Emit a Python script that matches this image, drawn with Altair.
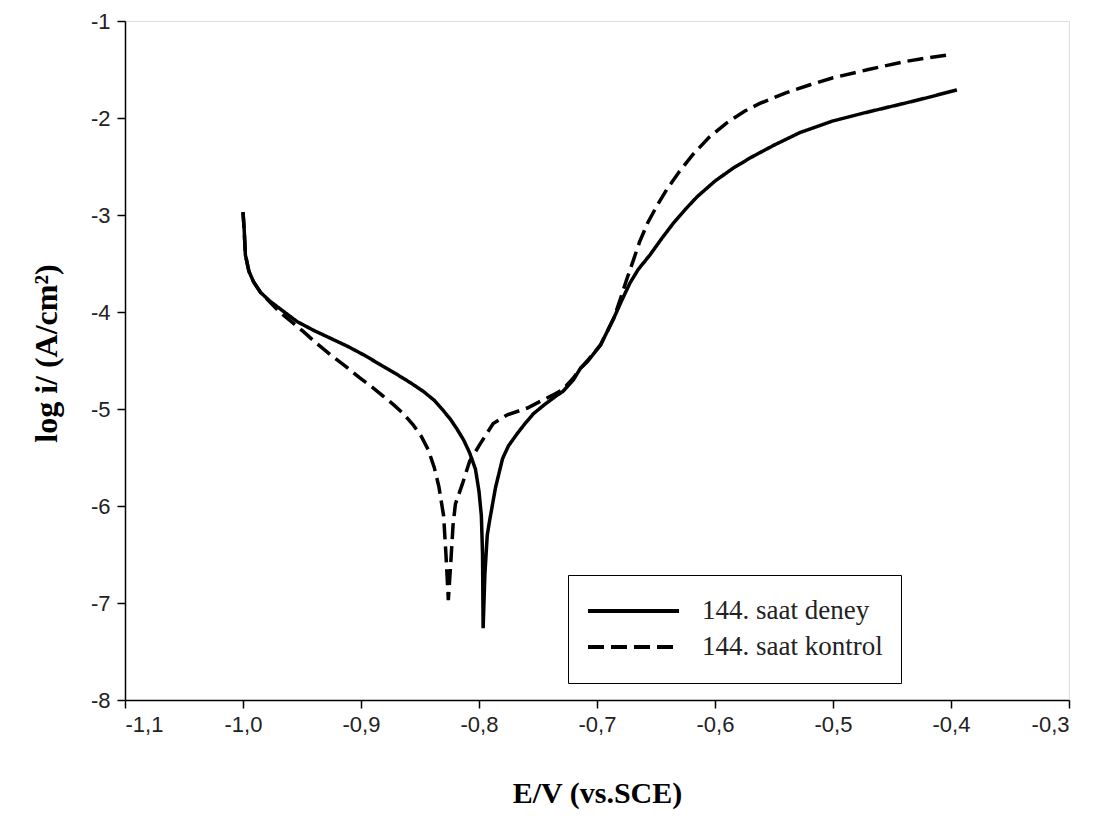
import altair as alt
import pandas as pd

# Series 1: 144. saat deney (solid)
deney_E = [-1.000, -0.999, -0.998, -0.995, -0.991, -0.985, -0.977, -0.965, -0.954, -0.940,
           -0.926, -0.912, -0.898, -0.884, -0.870, -0.858, -0.847, -0.838, -0.830, -0.824,
           -0.819, -0.813, -0.808, -0.803, -0.800, -0.798, -0.797, -0.7965, -0.795, -0.793,
           -0.791, -0.786, -0.780, -0.775, -0.768, -0.761, -0.754, -0.744, -0.734, -0.729,
           -0.720, -0.714, -0.708, -0.697, -0.686, -0.679, -0.672, -0.665, -0.655, -0.645,
           -0.635, -0.625, -0.615, -0.600, -0.585, -0.570, -0.550, -0.528, -0.500, -0.471,
           -0.440, -0.420, -0.395]
deney_logi = [-2.97, -3.15, -3.41, -3.58, -3.69, -3.80, -3.89, -4.00, -4.10, -4.19,
              -4.27, -4.35, -4.44, -4.54, -4.64, -4.73, -4.82, -4.91, -5.02, -5.11,
              -5.20, -5.32, -5.45, -5.62, -5.85, -6.10, -6.50, -7.26, -6.70, -6.30,
              -6.15, -5.81, -5.51, -5.38, -5.26, -5.15, -5.05, -4.95, -4.86, -4.82,
              -4.70, -4.58, -4.51, -4.34, -4.07, -3.88, -3.70, -3.56, -3.41, -3.24,
              -3.08, -2.94, -2.81, -2.65, -2.52, -2.41, -2.28, -2.15, -2.03, -1.94,
              -1.85, -1.79, -1.71]

# Series 2: 144. saat kontrol (dashed)
kontrol_E = [-1.000, -0.999, -0.998, -0.995, -0.991, -0.985, -0.977, -0.969, -0.959, -0.949,
             -0.938, -0.926, -0.913, -0.901, -0.891, -0.881, -0.872, -0.864, -0.856, -0.849,
             -0.843, -0.838, -0.834, -0.830, -0.828, -0.826, -0.824, -0.822, -0.820, -0.814,
             -0.808, -0.799, -0.788, -0.776, -0.759, -0.748, -0.738, -0.729, -0.720, -0.714,
             -0.708, -0.697, -0.686, -0.680, -0.675, -0.669, -0.664, -0.657, -0.649, -0.640,
             -0.630, -0.619, -0.605, -0.590, -0.575, -0.562, -0.540, -0.520, -0.500, -0.470,
             -0.440, -0.420, -0.403]
kontrol_logi = [-2.97, -3.15, -3.41, -3.58, -3.69, -3.80, -3.90, -4.00, -4.10, -4.20,
                -4.32, -4.44, -4.56, -4.68, -4.77, -4.87, -4.96, -5.05, -5.16, -5.28,
                -5.42, -5.60, -5.80, -6.10, -6.50, -6.97, -6.60, -6.20, -5.98, -5.77,
                -5.54, -5.36, -5.15, -5.06, -4.99, -4.92, -4.86, -4.80, -4.68, -4.58,
                -4.50, -4.34, -4.07, -3.86, -3.67, -3.46, -3.28, -3.08, -2.90, -2.72,
                -2.55, -2.38, -2.20, -2.05, -1.93, -1.85, -1.74, -1.66, -1.585, -1.50,
                -1.42, -1.38, -1.35]

series_names = ["144. saat deney", "144. saat kontrol"]
x_ticks = [-1.1, -1.0, -0.9, -0.8, -0.7, -0.6, -0.5, -0.4, -0.3]
y_ticks = [-8, -7, -6, -5, -4, -3, -2, -1]

rows = []
for i, (e, v) in enumerate(zip(deney_E, deney_logi)):
    rows.append({"E": e, "logi": v, "seri": series_names[0], "idx": i})
for i, (e, v) in enumerate(zip(kontrol_E, kontrol_logi)):
    rows.append({"E": e, "logi": v, "seri": series_names[1], "idx": i})
df = pd.DataFrame(rows)

chart = alt.Chart(df).mark_line(color="black", strokeWidth=3.5, clip=True).encode(
    x=alt.X("E:Q",
            scale=alt.Scale(domain=[-1.1, -0.3], nice=False, zero=False),
            axis=alt.Axis(
                title="E/V (vs.SCE)",
                values=x_ticks,
                labelExpr="(datum.value < 0 ? '-' : '') + replace(format(abs(datum.value), '.1f'), '.', ',')",
                grid=False, domainColor="black", domainWidth=1.5,
                tickColor="black", tickWidth=1.5, tickSize=8,
                labelFont="Liberation Sans", labelFontSize=22, labelColor="#222",
                labelPadding=6,
                titleFont="Liberation Serif", titleFontSize=30, titleFontWeight="bold",
                titleColor="black", titleY=78)),
    y=alt.Y("logi:Q",
            scale=alt.Scale(domain=[-8, -1], nice=False, zero=False),
            axis=alt.Axis(
                title="log i/ (A/cm²)",
                values=y_ticks,
                labelExpr="(datum.value < 0 ? '-' : '') + format(abs(datum.value), 'd')",
                grid=False, domainColor="black", domainWidth=1.5,
                tickColor="black", tickWidth=1.5, tickSize=8,
                labelFont="Liberation Sans", labelFontSize=22, labelColor="#222",
                labelPadding=7,
                titleFont="Liberation Serif", titleFontSize=32, titleFontWeight="bold",
                titleColor="black", titleX=-62, titleY=332)),
    strokeDash=alt.StrokeDash(
        "seri:N",
        scale=alt.Scale(domain=series_names, range=[[1, 0], [16, 7]]),
        legend=alt.Legend(
            title=None, orient="none", legendX=443, legendY=554,
            strokeColor="black", fillColor="white", padding=18,
            symbolType="stroke", symbolSize=8281, symbolStrokeWidth=4,
            symbolStrokeColor="black",
            labelFont="Liberation Serif", labelFontSize=27, labelColor="#222",
            labelLimit=500,
            labelOffset=21, clipHeight=36, rowPadding=0)),
    order="idx:Q",
).properties(
    width=944, height=679,
    autosize=alt.AutoSizeParams(type="none"),
    padding={"left": 117, "top": 13, "right": 24, "bottom": 118},
).configure_view(
    stroke="black", strokeWidth=1.5
).configure(background="white")

chart.save("out.html", embed_options={"renderer": "svg", "actions": False})
